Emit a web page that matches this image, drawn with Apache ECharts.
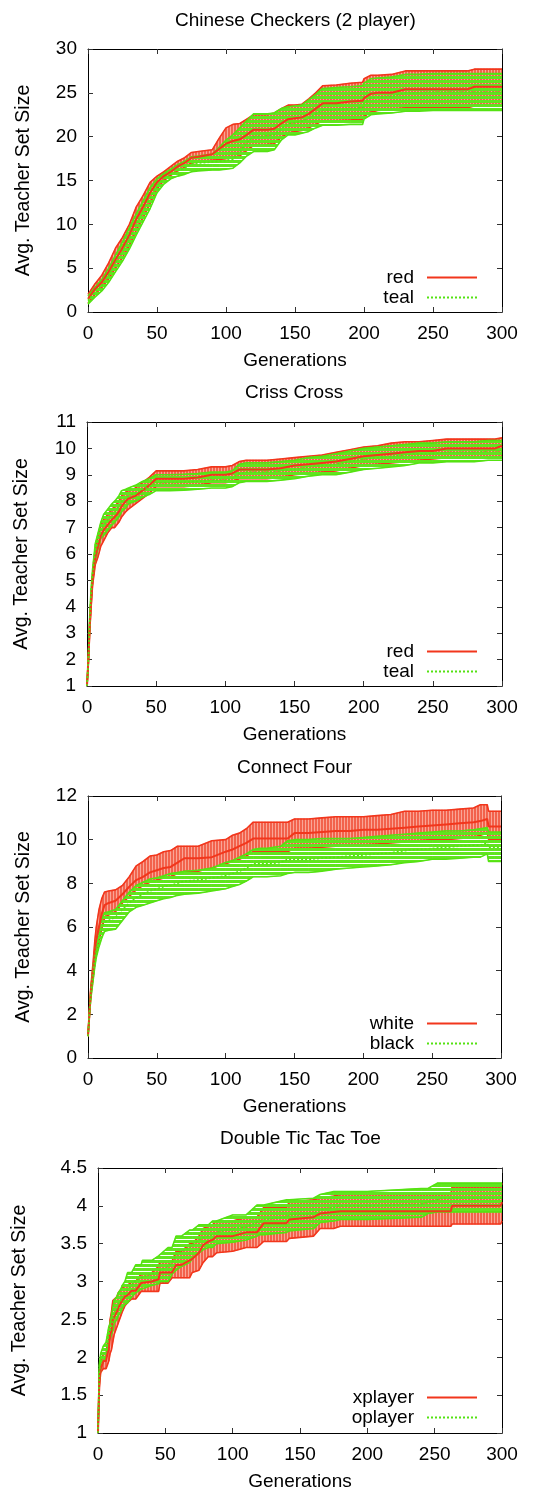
<!DOCTYPE html>
<html><head><meta charset="utf-8">
<script src="https://cdn.jsdelivr.net/npm/echarts@6/dist/echarts.min.js"></script>
<style>html,body{margin:0;padding:0;background:#fff}#c{width:535px;height:1492px}</style>
</head><body><div id="c"></div>
<script>
// ---------- Chinese Checkers (2 player) ----------
const ccGen = [0,5,10,15,20,25,30,35,40,45,50,55,60,65,70,75,80,90,95,100,105,110,115,120,130,135,140,145,150,155,160,165,170,180,190,199,200,205,210,220,230,240,250,260,275,280,290,300];
const ccRedMean = [1.5,2.6,3.4,4.6,6.0,7.3,8.8,10.6,12.0,13.6,14.8,15.5,16.0,16.6,17.0,17.6,17.7,18.0,18.6,19.2,19.5,19.7,20.2,20.8,20.8,20.9,21.5,22.0,22.1,22.2,22.6,23.2,23.8,23.8,24.0,24.1,24.4,24.9,25.0,25.0,25.4,25.4,25.4,25.4,25.4,25.7,25.7,25.7];
const ccRedHi = [2.0,3.2,4.2,5.6,7.3,8.5,10.0,12.0,13.3,14.8,15.5,16.0,16.6,17.2,17.6,18.2,18.3,18.5,19.8,21.0,21.4,21.5,22.0,22.5,22.5,22.7,23.2,23.6,23.6,23.7,24.3,25.0,25.8,25.9,26.1,26.2,26.6,27.0,27.0,27.1,27.5,27.5,27.5,27.5,27.5,27.7,27.7,27.7];
const ccRedLo = [1.0,2.0,2.8,3.8,5.0,6.2,7.6,9.3,10.8,12.4,14.0,15.0,15.6,16.1,16.5,17.0,17.1,17.3,17.4,17.5,17.6,17.8,18.4,19.0,19.1,19.2,19.9,20.4,20.6,20.7,21.0,21.4,21.8,21.8,21.9,22.0,22.3,22.8,23.0,23.1,23.3,23.3,23.3,23.3,23.3,23.5,23.5,23.5];
const ccTealMean = [1.3,2.2,3.0,4.2,5.6,6.9,8.4,10.0,11.5,13.0,14.4,15.2,15.7,16.1,16.4,16.9,17.0,17.1,17.2,17.3,17.4,18.3,19.3,20.0,20.1,20.2,20.9,21.5,21.6,21.8,22.1,22.6,23.0,23.1,23.2,23.3,23.8,24.4,24.5,24.6,25.0,25.0,25.1,25.1,25.1,25.1,25.1,25.1];
const ccTealHi = [1.8,2.8,3.7,5.0,6.5,8.0,9.6,11.2,12.7,14.2,15.2,15.8,16.3,16.8,17.2,17.7,17.8,18.0,18.8,19.6,20.2,21.0,21.8,22.6,22.6,22.7,23.2,23.4,23.5,23.6,24.2,24.8,25.5,25.6,25.7,25.8,26.1,26.6,26.7,26.8,27.1,27.1,27.2,27.2,27.2,27.2,27.2,27.2];
const ccTealLo = [0.9,1.7,2.4,3.4,4.6,5.8,7.2,8.8,10.3,11.8,13.6,14.6,15.2,15.5,15.7,16.0,16.1,16.2,16.2,16.3,16.4,17.0,17.8,18.3,18.3,18.5,19.6,20.2,20.2,20.4,20.6,21.0,21.3,21.3,21.4,21.4,22.0,22.5,22.6,22.7,22.9,22.9,23.0,23.0,23.0,23.0,23.0,23.0];

// ---------- Criss Cross ----------
const xcGen = [0,1,2,3,4,5,6,8,10,12,15,18,20,23,25,28,30,35,40,45,50,60,70,80,90,100,105,110,115,120,130,140,150,160,170,180,190,200,210,220,230,240,250,260,270,280,290,295,300];
const xcRedMean = [1,2,3.3,4.2,5.0,5.5,5.9,6.3,6.7,6.9,7.1,7.3,7.4,7.6,7.8,8.0,8.1,8.2,8.4,8.6,8.85,8.85,8.85,8.9,9.0,9.0,9.05,9.2,9.2,9.2,9.2,9.25,9.35,9.4,9.45,9.5,9.6,9.7,9.75,9.8,9.85,9.9,9.9,10.0,10.0,10.0,10.0,10.0,10.1];
const xcRedHi = [1,2.1,3.5,4.4,5.2,5.8,6.2,6.7,7.1,7.3,7.5,7.7,7.8,8.0,8.2,8.35,8.4,8.5,8.7,8.9,9.15,9.15,9.15,9.2,9.3,9.3,9.35,9.5,9.55,9.55,9.55,9.6,9.65,9.7,9.75,9.85,9.95,10.05,10.1,10.2,10.25,10.25,10.3,10.35,10.35,10.35,10.35,10.35,10.4];
const xcRedLo = [1,1.9,3.1,4.0,4.8,5.2,5.6,5.9,6.3,6.5,6.8,7.0,7.0,7.2,7.4,7.6,7.7,7.9,8.1,8.3,8.55,8.55,8.55,8.6,8.7,8.7,8.75,8.85,8.85,8.85,8.85,8.9,9.0,9.05,9.1,9.15,9.25,9.35,9.4,9.45,9.5,9.55,9.6,9.65,9.65,9.65,9.65,9.65,9.7];
const xcTealMean = [1,2,3.5,4.5,5.2,5.7,6.1,6.5,6.9,7.1,7.3,7.5,7.6,7.8,8.0,8.1,8.2,8.3,8.45,8.55,8.7,8.7,8.72,8.75,8.8,8.8,8.85,9.05,9.1,9.1,9.1,9.15,9.2,9.3,9.35,9.4,9.5,9.6,9.65,9.7,9.75,9.8,9.8,9.85,9.85,9.85,9.9,9.9,9.9];
const xcTealHi = [1,2.1,3.7,4.7,5.4,5.9,6.4,6.8,7.2,7.5,7.7,7.9,8.0,8.2,8.4,8.45,8.5,8.6,8.75,8.85,9.0,9.0,9.02,9.05,9.1,9.1,9.15,9.4,9.45,9.45,9.45,9.5,9.55,9.65,9.7,9.8,9.9,10.0,10.05,10.1,10.15,10.2,10.2,10.25,10.25,10.25,10.3,10.3,10.3];
const xcTealLo = [1,1.9,3.3,4.3,5.0,5.5,5.8,6.2,6.6,6.7,6.9,7.1,7.2,7.4,7.6,7.75,7.9,8.0,8.15,8.25,8.4,8.4,8.42,8.45,8.5,8.5,8.55,8.7,8.75,8.75,8.75,8.8,8.85,8.95,9.0,9.0,9.1,9.2,9.25,9.3,9.35,9.45,9.45,9.5,9.5,9.5,9.55,9.55,9.55];

// ---------- Connect Four ----------
const c4Gen = [0,1,2,3,4,5,6,8,10,12,15,20,25,30,35,40,45,50,55,60,65,70,80,90,100,105,110,115,120,125,130,140,145,150,160,170,180,190,200,210,220,230,240,250,260,270,280,285,290,291,295,300];
const c4WhiteMean = [1,2,3,3.6,4.2,4.9,5.4,6.0,6.6,7.0,7.1,7.2,7.5,7.85,8.15,8.3,8.5,8.6,8.7,8.75,8.95,9.15,9.15,9.2,9.45,9.55,9.7,9.85,10.05,10.05,10.05,10.05,10.05,10.3,10.3,10.35,10.4,10.4,10.45,10.45,10.5,10.55,10.6,10.65,10.7,10.75,10.8,10.85,10.95,10.6,10.6,10.6];
const c4WhiteHi = [1,2.1,3.2,3.9,4.6,5.4,6.0,6.8,7.3,7.6,7.65,7.7,7.9,8.3,8.8,9.0,9.25,9.3,9.45,9.5,9.7,9.7,9.7,9.95,10.0,10.2,10.3,10.5,10.8,10.8,10.8,10.8,10.8,10.95,10.95,11.0,11.05,11.05,11.05,11.1,11.15,11.3,11.3,11.35,11.35,11.4,11.45,11.6,11.6,11.3,11.3,11.3];
const c4WhiteLo = [1,1.9,2.8,3.3,3.8,4.4,4.8,5.3,5.9,6.4,6.55,6.7,7.1,7.4,7.7,7.9,8.05,8.15,8.25,8.3,8.45,8.55,8.55,8.7,8.9,9.0,9.1,9.25,9.45,9.45,9.45,9.45,9.45,9.6,9.6,9.65,9.7,9.7,9.75,9.8,9.85,9.9,9.95,10.0,10.0,10.05,10.1,10.2,10.3,10.0,10.0,10.0];
const c4BlackMean = [1,2,2.9,3.5,4.0,4.6,5.0,5.6,6.0,6.2,6.3,6.45,6.8,7.1,7.35,7.5,7.65,7.75,7.85,7.9,8.0,8.1,8.15,8.25,8.35,8.45,8.55,8.7,8.9,8.9,8.9,8.95,9.1,9.1,9.1,9.15,9.2,9.25,9.3,9.35,9.4,9.5,9.55,9.6,9.65,9.7,9.75,9.75,9.85,9.65,9.65,9.65];
const c4BlackHi = [1,2.1,3.0,3.7,4.3,4.9,5.4,6.0,6.4,6.65,6.7,6.8,7.2,7.6,7.9,8.05,8.2,8.25,8.35,8.45,8.5,8.55,8.6,8.7,8.95,9.05,9.2,9.35,9.55,9.6,9.6,9.7,9.95,10.0,10.0,10.05,10.05,10.05,10.1,10.15,10.2,10.25,10.3,10.35,10.4,10.4,10.45,10.5,10.55,10.35,10.35,10.35];
const c4BlackLo = [1,1.9,2.7,3.2,3.7,4.2,4.6,5.1,5.5,5.8,5.85,5.9,6.3,6.7,6.9,7.0,7.1,7.2,7.3,7.35,7.45,7.5,7.55,7.65,7.75,7.85,7.95,8.1,8.3,8.3,8.3,8.35,8.45,8.5,8.5,8.55,8.65,8.7,8.75,8.8,8.85,8.95,9.0,9.1,9.1,9.15,9.2,9.2,9.35,9.0,9.0,9.0];

// ---------- Double Tic Tac Toe ----------
const dtGen = [0,1,2,4,6,7,8,9,10,11,12,14,15,17,18,20,22,25,28,32,33,40,45,46,52,55,58,62,68,70,75,78,82,85,88,100,110,118,120,123,140,142,160,165,175,180,200,240,245,252,255,262,263,280,299,300];
const dtXMean = [1.0,1.7,1.85,1.95,1.95,2.05,2.1,2.3,2.35,2.5,2.5,2.6,2.65,2.72,2.75,2.8,2.82,2.88,2.88,2.98,3.0,3.0,3.03,3.12,3.12,3.12,3.22,3.22,3.28,3.3,3.38,3.48,3.53,3.55,3.6,3.6,3.65,3.65,3.7,3.77,3.77,3.82,3.85,3.9,3.92,3.93,3.93,3.93,3.93,3.93,3.93,3.93,4.0,4.0,4.0,4.05];
const dtXHi = [1.0,1.8,1.95,2.05,2.05,2.2,2.25,2.5,2.6,2.75,2.75,2.8,2.85,2.9,2.92,2.95,2.95,3.0,3.0,3.1,3.12,3.12,3.2,3.27,3.27,3.27,3.4,3.4,3.5,3.5,3.6,3.7,3.73,3.75,3.8,3.8,3.85,3.85,3.9,3.98,3.98,4.05,4.08,4.1,4.13,4.15,4.15,4.15,4.15,4.15,4.15,4.15,4.25,4.25,4.25,4.3];
const dtXLo = [1.0,1.6,1.8,1.85,1.85,1.9,1.95,2.05,2.1,2.2,2.3,2.4,2.45,2.55,2.6,2.68,2.72,2.77,2.77,2.87,2.87,2.87,2.87,2.98,2.98,3.05,3.05,3.05,3.05,3.12,3.15,3.25,3.33,3.33,3.38,3.4,3.45,3.45,3.48,3.53,3.53,3.57,3.6,3.7,3.7,3.73,3.73,3.73,3.73,3.73,3.73,3.73,3.76,3.76,3.76,3.8];
const dtOMean = [1.0,1.8,1.95,2.05,2.1,2.2,2.3,2.35,2.4,2.5,2.6,2.65,2.7,2.75,2.8,2.85,2.9,2.95,3.02,3.05,3.07,3.1,3.12,3.15,3.2,3.25,3.35,3.4,3.45,3.48,3.55,3.58,3.6,3.62,3.65,3.7,3.72,3.78,3.8,3.82,3.85,3.88,3.9,3.95,3.98,4.0,4.0,4.02,4.05,4.08,4.1,4.1,4.1,4.1,4.1,4.1];
const dtOHi = [1.0,1.9,2.05,2.15,2.2,2.3,2.4,2.45,2.55,2.65,2.75,2.8,2.85,2.9,2.95,3.0,3.12,3.12,3.22,3.22,3.28,3.28,3.34,3.34,3.45,3.45,3.6,3.6,3.68,3.68,3.75,3.75,3.75,3.8,3.8,3.88,3.88,4.01,4.01,4.01,4.08,4.08,4.1,4.15,4.19,4.19,4.19,4.23,4.23,4.3,4.3,4.3,4.3,4.3,4.3,4.3];
const dtOLo = [1.0,1.7,1.85,1.95,2.0,2.1,2.2,2.25,2.3,2.35,2.45,2.5,2.55,2.6,2.65,2.7,2.72,2.8,2.85,2.9,2.92,2.95,2.97,3.0,3.0,3.1,3.15,3.2,3.25,3.3,3.38,3.42,3.45,3.45,3.5,3.52,3.55,3.6,3.62,3.62,3.65,3.67,3.7,3.78,3.8,3.82,3.82,3.85,3.9,3.92,3.92,3.92,3.92,3.92,3.92,3.92];

const xTicks = {min:0, max:300, interval:50};
const yLabel = 'Avg. Teacher Set Size';
const xLabel = 'Generations';

const FONT = '"Liberation Sans", Arial, Helvetica, sans-serif';
const FS = 19;
const RED = '#f2361c';
const GREEN = '#55e212';

function makePattern(kind){
  const c = document.createElement('canvas');
  const g = c.getContext('2d');
  if(kind === 'red'){
    c.width = 3; c.height = 1;
    g.fillStyle = 'rgb(242,98,76)'; g.fillRect(0,0,2,1);
    g.fillStyle = 'rgb(250,165,150)'; g.fillRect(2,0,1,1);
  } else {
    c.width = 2; c.height = 4;
    g.fillStyle = 'rgb(96,229,30)'; g.fillRect(0,0,2,3);
  }
  return {image: c, repeat: 'repeat'};
}
const RED_FILL = makePattern('red');
const GREEN_FILL = makePattern('green');

function measure(t){
  const ctx = document.createElement('canvas').getContext('2d');
  ctx.font = FS + 'px "Liberation Sans"';
  return ctx.measureText(t).width;
}

const panels = [
  {title:'Chinese Checkers (2 player)', gen:ccGen, a:[ccRedMean,ccRedLo,ccRedHi], b:[ccTealMean,ccTealLo,ccTealHi],
   names:['red','teal'], yMin:0, yMax:30, yInt:5,
   grid:{left:88, top:49, width:414, height:263}, titleCY:21, legCY:[278,298], yNameGap:54},
  {title:'Criss Cross', gen:xcGen, a:[xcRedMean,xcRedLo,xcRedHi], b:[xcTealMean,xcTealLo,xcTealHi],
   names:['red','teal'], yMin:1, yMax:11, yInt:1,
   grid:{left:87, top:422, width:415, height:264}, titleCY:393, legCY:[652,672], yNameGap:55},
  {title:'Connect Four', gen:c4Gen, a:[c4WhiteMean,c4WhiteLo,c4WhiteHi], b:[c4BlackMean,c4BlackLo,c4BlackHi],
   names:['white','black'], yMin:0, yMax:12, yInt:2,
   grid:{left:88, top:796, width:413, height:262}, titleCY:768, legCY:[1024,1044], yNameGap:54},
  {title:'Double Tic Tac Toe', gen:dtGen, a:[dtXMean,dtXLo,dtXHi], b:[dtOMean,dtOLo,dtOHi],
   names:['xplayer','oplayer'], yMin:1, yMax:4.5, yInt:0.5,
   grid:{left:98, top:1168, width:404, height:265}, titleCY:1139, legCY:[1398,1418], yNameGap:68}
];

function bandRender(fill){
  return function(params, api){
    const p1 = api.coord([api.value(0), api.value(2)]);
    const p2 = api.coord([api.value(3), api.value(5)]);
    const p3 = api.coord([api.value(3), api.value(4)]);
    const p4 = api.coord([api.value(0), api.value(1)]);
    return {type:'polygon', shape:{points:[p1,p2,p3,p4]},
            style:{fill: fill, stroke: fill, lineWidth: 0.8}};
  };
}
function bandData(gen, lo, hi){
  const d = [];
  for(let k=0;k<gen.length-1;k++) d.push([gen[k], lo[k], hi[k], gen[k+1], lo[k+1], hi[k+1]]);
  return d;
}
function pairs(gen, v){ return gen.map((g,k)=>[g, v[k]]); }

const txt = {fontSize:FS, color:'#000', fontFamily:FONT};
const grids=[], xAxes=[], yAxes=[], series=[], legends=[], titles=[];
panels.forEach((p,i)=>{
  grids.push(Object.assign({containLabel:false}, p.grid));
  const tick = {show:true, inside:true, length:5, lineStyle:{color:'#333', width:1}};
  const line = {show:true, onZero:false, lineStyle:{color:'#000', width:1}};
  xAxes.push({type:'value', gridIndex:i, min:xTicks.min, max:xTicks.max, interval:xTicks.interval,
    axisLine:line, axisTick:tick, splitLine:{show:false},
    axisLabel:Object.assign({margin:12}, txt),
    name:xLabel, nameLocation:'middle', nameGap:39, nameTextStyle:txt});
  xAxes.push({type:'value', gridIndex:i, position:'top', min:xTicks.min, max:xTicks.max, interval:xTicks.interval,
    axisLine:line, axisTick:tick, splitLine:{show:false}, axisLabel:{show:false}});
  yAxes.push({type:'value', gridIndex:i, min:p.yMin, max:p.yMax, interval:p.yInt,
    axisLine:line, axisTick:tick, splitLine:{show:false},
    axisLabel:Object.assign({margin:11}, txt),
    name:yLabel, nameLocation:'middle', nameRotate:90, nameGap:p.yNameGap,
    nameTextStyle:Object.assign({}, txt, {fontSize:19.5})});
  yAxes.push({type:'value', gridIndex:i, position:'right', min:p.yMin, max:p.yMax, interval:p.yInt,
    axisLine:line, axisTick:tick, splitLine:{show:false}, axisLabel:{show:false}});
  const ax = {xAxisIndex:2*i, yAxisIndex:2*i};
  const [aM,aL,aH] = p.a, [bM,bL,bH] = p.b;
  series.push(Object.assign({type:'custom', name:'bandA'+i, silent:true, clip:true, z:2,
    renderItem:bandRender(RED_FILL), encode:{x:[0,3], y:[1,2,4,5]}, data:bandData(p.gen,aL,aH)}, ax));
  series.push(Object.assign({type:'line', name:'aLo'+i, silent:true, symbol:'none', z:3,
    lineStyle:{color:RED, width:1.6}, data:pairs(p.gen,aL)}, ax));
  series.push(Object.assign({type:'line', name:'aHi'+i, silent:true, symbol:'none', z:3,
    lineStyle:{color:RED, width:1.6}, data:pairs(p.gen,aH)}, ax));
  series.push(Object.assign({type:'custom', name:'bandB'+i, silent:true, clip:true, z:4,
    renderItem:bandRender(GREEN_FILL), encode:{x:[0,3], y:[1,2,4,5]}, data:bandData(p.gen,bL,bH)}, ax));
  series.push(Object.assign({type:'line', name:'bLo'+i, silent:true, symbol:'none', z:5,
    lineStyle:{color:GREEN, width:1.6}, data:pairs(p.gen,bL)}, ax));
  series.push(Object.assign({type:'line', name:'bHi'+i, silent:true, symbol:'none', z:5,
    lineStyle:{color:GREEN, width:1.6}, data:pairs(p.gen,bH)}, ax));
  series.push(Object.assign({type:'line', name:p.names[0], silent:true, symbol:'none', z:6,
    itemStyle:{color:RED}, lineStyle:{color:RED, width:2}, data:pairs(p.gen,aM)}, ax));
  series.push(Object.assign({type:'line', name:p.names[1], silent:true, symbol:'none', z:7,
    itemStyle:{color:GREEN}, lineStyle:{color:GREEN, width:1.6, type:[2,2]}, data:pairs(p.gen,bM)}, ax));
  const cx = p.grid.left + p.grid.width/2;
  titles.push({text:p.title, left: Math.round(cx - measure(p.title)/2), top:p.titleCY - 10, padding:0,
    textStyle:{fontSize:FS, fontWeight:'normal', color:'#000', fontFamily:FONT}});
  p.names.forEach((n,j)=>{
    legends.push({data:[n], right:57, top:p.legCY[j]-10, orient:'horizontal', align:'right',
      itemWidth:50, itemHeight:12, padding:0, selectedMode:false,
      itemStyle:{opacity:0},
      textStyle:Object.assign({padding:[0,8,0,0]}, txt)});
  });
});

const chart = echarts.init(document.getElementById('c'), null, {renderer:'canvas'});
chart.setOption({
  animation:false, backgroundColor:'#fff',
  title:titles, legend:legends, grid:grids, xAxis:xAxes, yAxis:yAxes, series:series
});
</script></body></html>
